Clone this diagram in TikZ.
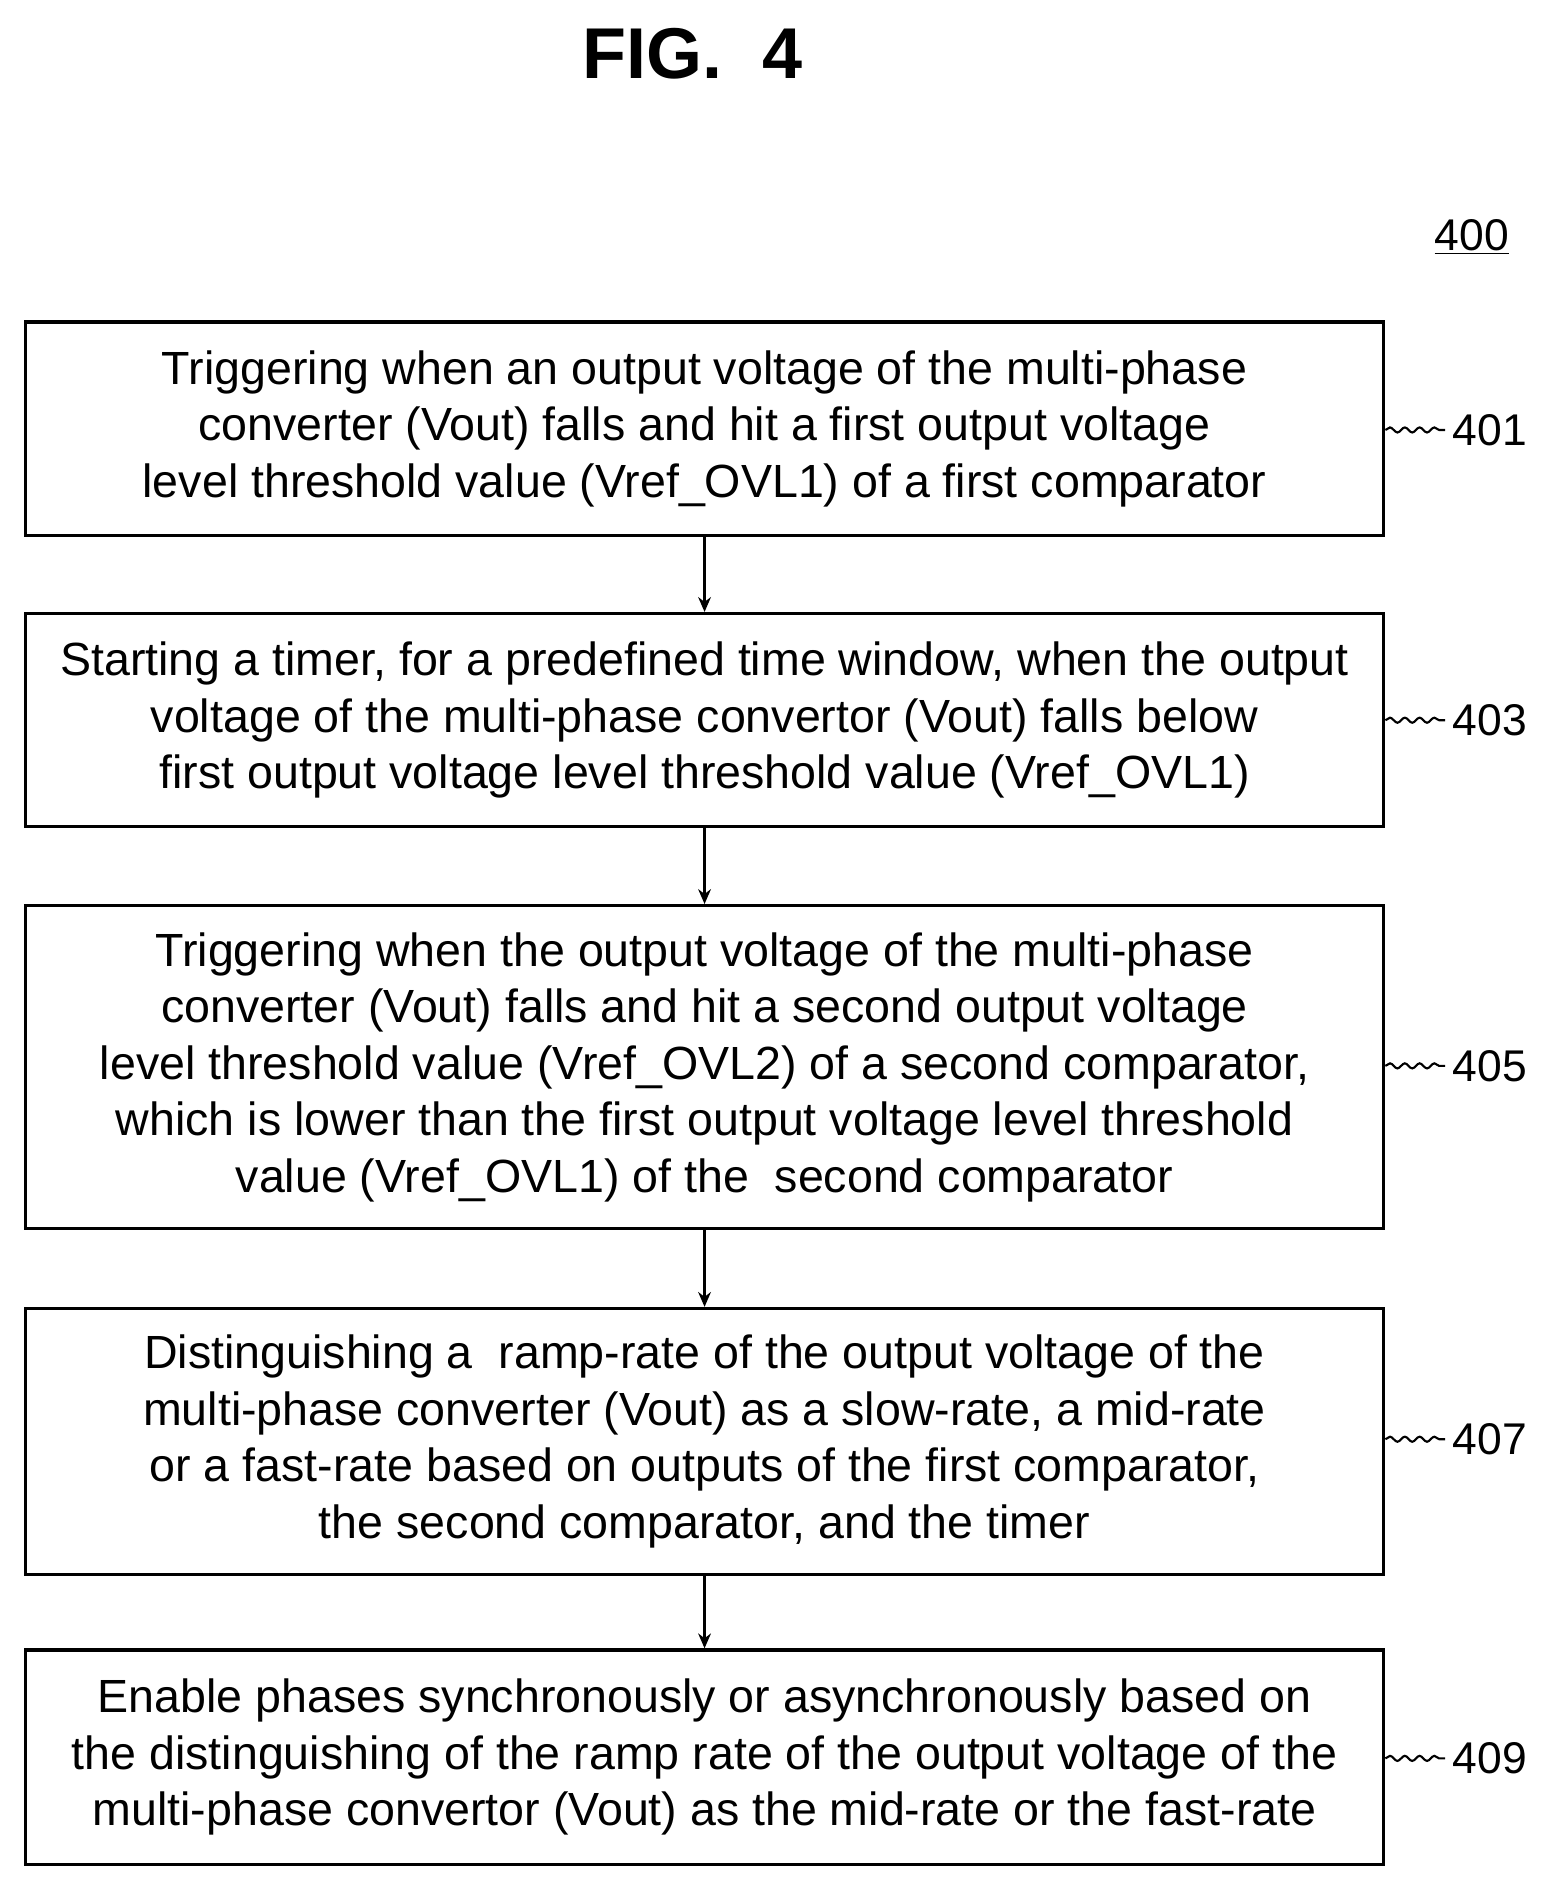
\documentclass[tikz,border=0pt]{standalone}
\usepackage{fontspec}
\setmainfont{Liberation Sans}
\usetikzlibrary{decorations.pathmorphing,arrows.meta}

\tikzset{
  stepbox/.style={draw, line width=1.6pt, minimum width=22.56cm, align=center,
    font=\fontsize{22}{26.7}\selectfont, inner sep=0pt},
  ref/.style={font=\fontsize{21}{26}\selectfont, anchor=west},
  lead/.style={line width=1pt, decorate, decoration={snake, amplitude=1.2pt, segment length=7pt}},
  flow/.style={-{Stealth[length=7pt,width=6pt]}, line width=1.2pt}
}

\begin{document}
\begin{tikzpicture}[x=0.02cm, y=-0.02cm]
  \useasboundingbox (0,0) rectangle (1280,1561);

  \node[font=\fontsize{34}{40}\selectfont\bfseries] (fig) at (575,45) {FIG.\ \ 4};
  \node[font=\fontsize{21}{26}\selectfont] (n400) at (1222,197) {\underline{400}};

  % steps
  \node[stepbox, minimum height=3.54cm] (s401) at (585,356)
    {Triggering when an output voltage of the multi-phase\\
     converter (Vout) falls and hit a first output voltage\\
     level threshold value (Vref\_OVL1) of a first comparator};
  \node[stepbox, minimum height=3.54cm] (s403) at (585,598)
    {Starting a timer, for a predefined time window, when the output\\
     voltage of the multi-phase convertor (Vout) falls below\\
     first output voltage level threshold value (Vref\_OVL1)};
  \node[stepbox, minimum height=5.36cm] (s405) at (585,886)
    {Triggering when the output voltage of the multi-phase\\
     converter (Vout) falls and hit a second output voltage\\
     level threshold value (Vref\_OVL2) of a second comparator,\\
     which is lower than the first output voltage level threshold\\
     value (Vref\_OVL1) of the \ second comparator};
  \node[stepbox, minimum height=4.42cm] (s407) at (585,1197)
    {Distinguishing a \ ramp-rate of the output voltage of the\\
     multi-phase converter (Vout) as a slow-rate, a mid-rate\\
     or a fast-rate based on outputs of the first comparator,\\
     the second comparator, and the timer};
  \node[stepbox, minimum height=3.56cm] (s409) at (585,1459)
    {Enable phases synchronously or asynchronously based on\\
     the distinguishing of the ramp rate of the output voltage of the\\
     multi-phase convertor (Vout) as the mid-rate or the fast-rate};

  % reference numerals
  \foreach \n/\y in {401/357, 403/598, 405/885, 407/1195, 409/1460} {
    \node[ref] (n\n) at (1200,\y) {\n};
    \draw[lead] (s\n.east |- n\n.west) -- (n\n.west);
  }

  % flow
  \draw[flow] (s401) -- (s403);
  \draw[flow] (s403) -- (s405);
  \draw[flow] (s405) -- (s407);
  \draw[flow] (s407) -- (s409);
\end{tikzpicture}
\end{document}
